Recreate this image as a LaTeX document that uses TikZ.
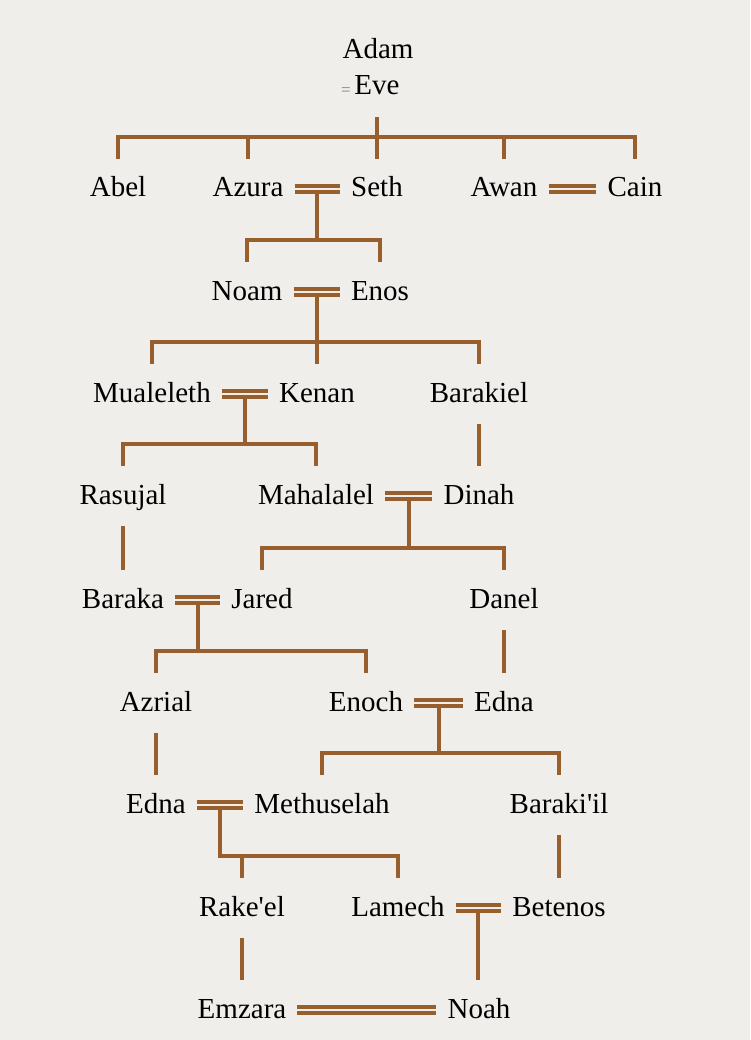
\documentclass[tikz,border=0pt]{standalone}
\usepackage{fontspec}
\setmainfont{Liberation Serif}
\definecolor{paper}{RGB}{239,238,235}
\definecolor{rust}{RGB}{152,95,45}

\begin{document}
\begin{tikzpicture}[x=1pt,y=-1pt,
    kin/.style={draw=rust,line width=4pt},
    wed/.style={draw=rust,line width=4pt,double=paper,double distance=2.2pt}]

        \useasboundingbox (0,0) rectangle (750,1040);
        \fill[paper] (0,0) rectangle (750,1040);

        \begin{scope}[every node/.style={font=\fontsize{29}{32}\selectfont,
            text height=20pt,text depth=4pt,inner xsep=11pt,inner ysep=18pt}]
          \node (adam)      at (378,51)   {Adam};
          \node (eve)       at (377,87)   {Eve};
          \node (abel)      at (118,189)  {Abel};
          \node (azura)     at (248,189)  {Azura};
          \node (seth)      at (377,189)  {Seth};
          \node (awan)      at (504,189)  {Awan};
          \node (cain)      at (635,189)  {Cain};
          \node (noam)      at (247,292)  {Noam};
          \node (enos)      at (380,292)  {Enos};
          \node (mualeleth) at (152,394)  {Mualeleth};
          \node (kenan)     at (317,394)  {Kenan};
          \node (barakiel)  at (479,394)  {Barakiel};
          \node (rasujal)   at (123,496)  {Rasujal};
          \node (mahalalel) at (316,496)  {Mahalalel};
          \node (dinah)     at (479,496)  {Dinah};
          \node (baraka)    at (123,600)  {Baraka};
          \node (jared)     at (262,600)  {Jared};
          \node (danel)     at (504,600)  {Danel};
          \node (azrial)    at (156,703)  {Azrial};
          \node (enoch)     at (366,703)  {Enoch};
          \node (edna1)     at (504,703)  {Edna};
          \node (edna2)     at (156,805)  {Edna};
          \node (methuselah) at (322,805) {Methuselah};
          \node (barakiil)  at (559,805)  {Baraki\textquotesingle il};
          \node (rakeel)    at (242,908)  {Rake\textquotesingle el};
          \node (lamech)    at (398,908)  {Lamech};
          \node (betenos)   at (559,908)  {Betenos};
          \node (emzara)    at (242,1010) {Emzara};
          \node (noah)      at (479,1010) {Noah};
        \end{scope}

        \node[text=gray,font=\fontsize{17}{17}\selectfont,inner sep=0pt] (eq) at (346,92) {=};

        % middle of each marriage line
        \foreach \a/\b/\m in {azura/seth/m2, noam/enos/m3, mualeleth/kenan/m4,
            mahalalel/dinah/m5, baraka/jared/m6, enoch/edna1/m7,
            edna2/methuselah/m8, lamech/betenos/m9}
          \path (\a) -- coordinate (\m) (\b);

        % children
        \foreach \c/\p in {abel/eve.south, azura/eve.south, seth/eve.south,
            awan/eve.south, cain/eve.south, noam/m2, enos/m2,
            mualeleth/m3, kenan/m3, barakiel/m3, rasujal/m4, mahalalel/m4,
            jared/m5, danel/m5, azrial/m6, enoch/m6, methuselah/m7, barakiil/m7,
            rakeel/m8, lamech/m8}
          \draw[kin] (\c.north) -- ++(0,-22) -| (\p);
        \draw[kin] (m9) -- (m9 |- noah.north);

        \begin{scope}[every edge/.style={kin}]
          \path (barakiel) edge (dinah);
          \path (rasujal)  edge (baraka);
          \path (danel)    edge (edna1);
          \path (azrial)   edge (edna2);
          \path (barakiil) edge (betenos);
          \path (rakeel)   edge (emzara);
        \end{scope}

        % marriages
        \foreach \a/\b in {azura/seth, awan/cain, noam/enos, mualeleth/kenan,
            mahalalel/dinah, baraka/jared, enoch/edna1, edna2/methuselah,
            lamech/betenos, emzara/noah}
          \draw[wed] (\a) -- (\b);

      \end{tikzpicture}
\end{document}
